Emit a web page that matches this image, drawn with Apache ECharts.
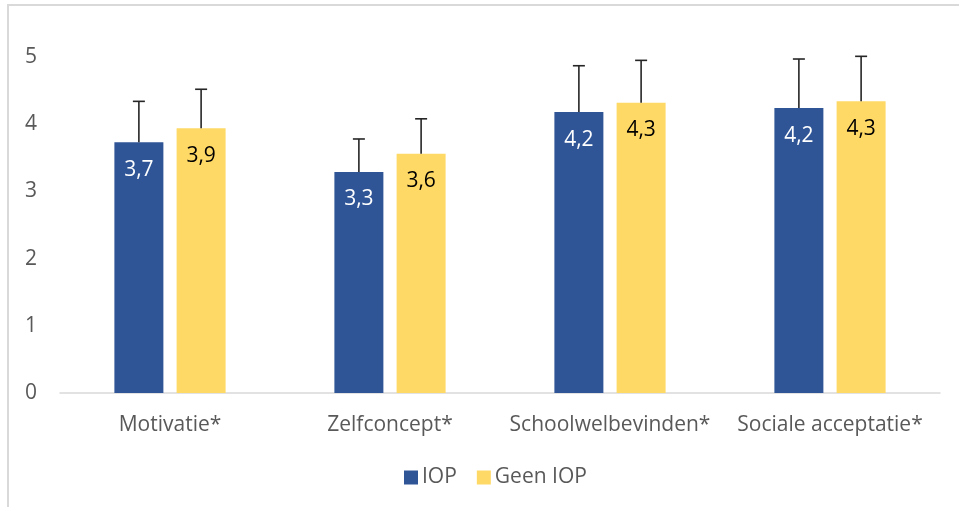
<!DOCTYPE html>
<html>
<head>
<meta charset="utf-8">
<script src="https://cdn.jsdelivr.net/npm/echarts@6/dist/echarts.min.js"></script>
<style>
  html, body { margin: 0; padding: 0; background: #fff; }
  #chart { width: 959px; height: 507px; }
</style>
</head>
<body>
<div id="chart"></div>
<script>
// categorieen en waarden (gemiddelde + sd)
const categories = ['Motivatie*', 'Zelfconcept*', 'Schoolwelbevinden*', 'Sociale acceptatie*'];
const iopMean = [3.73, 3.29, 4.18, 4.24];
const iopSd = [0.61, 0.49, 0.69, 0.73];
const geenMean = [3.94, 3.56, 4.32, 4.34];
const geenSd = [0.58, 0.52, 0.63, 0.67];
const yTicks = [0, 1, 2, 3, 4, 5];

const BAR_W = 49;
const BAR_GAP = 0.27;
const FONT = '"Open Sans", sans-serif';

function fmt(v) {
  return v.toFixed(1).replace('.', ',');
}

// foutbalk (alleen naar boven) via custom series
function errorBar(means, sds, side) {
  return {
    type: 'custom',
    silent: true,
    z: 5,
    clip: false,
    data: means.map((m, i) => [i, m, m + sds[i]]),
    renderItem: function (params, api) {
      const base = api.coord([api.value(0), api.value(1)]);
      const top = api.coord([api.value(0), api.value(2)]);
      const off = side * (BAR_W * (1 + BAR_GAP)) / 2;
      const x = base[0] + off;
      const cap = 6;
      const style = { stroke: '#262626', lineWidth: 1.6 };
      return {
        type: 'group',
        children: [
          { type: 'line', shape: { x1: x, y1: base[1], x2: x, y2: top[1] }, style: style },
          { type: 'line', shape: { x1: x - cap, y1: top[1], x2: x + cap, y2: top[1] }, style: style }
        ]
      };
    }
  };
}

const myChart = echarts.init(document.getElementById('chart'));
myChart.setOption({
  animation: false,
  textStyle: { fontFamily: FONT },
  graphic: [
    {
      type: 'rect',
      shape: { x: 8, y: 5, width: 980, height: 540 },
      style: { fill: 'none', stroke: '#d9d9d9', lineWidth: 2 },
      silent: true
    }
  ],
  legend: {
    data: ['IOP', 'Geen IOP'],
    left: 399,
    top: 462,
    itemWidth: 14,
    itemHeight: 14,
    itemGap: 20,
    icon: 'rect',
    textStyle: { color: '#595959', fontSize: 21, fontFamily: FONT, padding: [0, 0, 0, -1] }
  },
  grid: { left: 60, right: 19, top: 57, bottom: 114 },
  xAxis: {
    type: 'category',
    data: categories,
    axisTick: { show: false },
    axisLine: { lineStyle: { color: '#d9d9d9', width: 1.5 } },
    axisLabel: { color: '#595959', fontSize: 21, margin: 22, fontFamily: FONT, interval: 0 }
  },
  yAxis: {
    type: 'value',
    min: yTicks[0],
    max: yTicks[yTicks.length - 1],
    interval: 1,
    splitLine: { show: false },
    axisLine: { show: false },
    axisTick: { show: false },
    axisLabel: { color: '#595959', fontSize: 21, margin: 23, fontFamily: FONT }
  },
  series: [
    {
      name: 'IOP',
      type: 'bar',
      data: iopMean,
      barWidth: BAR_W,
      barGap: (BAR_GAP * 100) + '%',
      itemStyle: { color: '#2f5597' },
      label: {
        show: true,
        position: 'insideTop',
        distance: 17,
        color: '#ffffff',
        fontSize: 21,
        fontFamily: FONT,
        formatter: p => fmt(p.value)
      }
    },
    {
      name: 'Geen IOP',
      type: 'bar',
      data: geenMean,
      barWidth: BAR_W,
      itemStyle: { color: '#ffd966' },
      label: {
        show: true,
        position: 'insideTop',
        distance: 17,
        color: '#000000',
        fontSize: 21,
        fontFamily: FONT,
        formatter: p => fmt(p.value)
      }
    },
    errorBar(iopMean, iopSd, -1),
    errorBar(geenMean, geenSd, 1)
  ]
});

window.addEventListener('resize', () => {
  myChart.resize();
});
</script>
</body>
</html>
